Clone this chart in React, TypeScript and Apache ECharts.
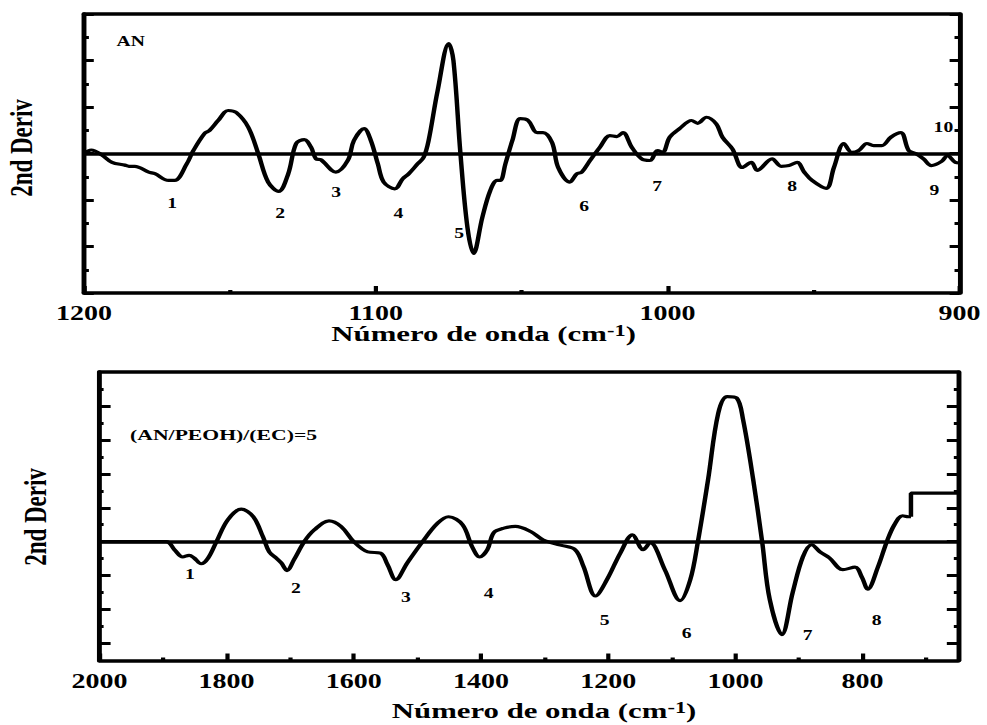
import React, { useEffect, useRef } from 'react';
import * as echarts from 'echarts';

// ---------- data ----------
// Upper panel: AN, 1200-900 cm-1
const topXRange = [900, 1200];
const topYRange = [-6, 6];
const topSpectrum: [number, number][] = [
  [1200, 0.0], [1197.5, 0.15], [1194, -0.05], [1190.4, -0.38], [1186, -0.5], [1184.6, -0.55],
  [1182.6, -0.55], [1177.8, -0.8], [1175.7, -0.87], [1171, -1.16], [1168.9, -1.16], [1164.8, -0.45],
  [1162.5, 0.13], [1158.7, 0.86], [1157, 0.99], [1154, 1.42], [1150.6, 1.85], [1147.8, 1.76],
  [1143.7, 1.13], [1140.3, 0], [1136.9, -1.23], [1133.3, -1.63], [1130, -0.87], [1127.3, 0.43],
  [1124.5, 0.6], [1122.2, 0.27], [1120.5, -0.23], [1118.8, -0.27], [1113.7, -0.8], [1109.6, -0.3],
  [1107.5, 0.56], [1104, 1.07], [1101.7, 0.56], [1099.3, -0.45], [1097.3, -1.23], [1093.5, -1.52],
  [1090.8, -1.09], [1088.7, -0.87], [1085.7, -0.45], [1083.6, -0.16], [1081.9, 0.56], [1078.8, 2.71],
  [1075, 4.73], [1073.4, 4.0], [1071, 0], [1068.6, -3.18], [1066.5, -4.3], [1063.5, -2.75],
  [1060.8, -1.6], [1058.4, -1.16], [1057.3, -1.16], [1055.6, -0.45], [1053.2, 0.56], [1050.5, 1.5],
  [1047.8, 1.42], [1044.7, 0.9], [1042.7, 0.9], [1039.6, 0.47], [1037.5, -0.6], [1033.5, -1.23],
  [1031.1, -0.87], [1029.4, -0.8], [1026.6, -0.3], [1023.2, 0.27], [1019.8, 0.77], [1017.4, 0.73],
  [1015.3, 0.9], [1012.3, 0.27], [1008.9, -0.23], [1006.1, -0.3], [1003.4, 0.13], [1001.7, 0.05],
  [999.3, 0.7], [995.9, 1.07], [991.8, 1.42], [989.7, 1.3], [986.7, 1.56], [983.3, 1.27],
  [981.2, 0.7], [977.8, 0.2], [974.4, -0.6], [971.3, -0.38], [969.3, -0.73], [964.2, -0.23],
  [961.1, -0.55], [958.4, -0.52], [955.6, -0.38], [953.2, -0.8], [950.5, -1.16], [945.7, -1.5],
  [943, -0.6], [939.6, 0.43], [936.9, 0.05], [934.5, 0.13], [931.7, 0.43], [929.4, 0.34],
  [926.6, 0.34], [923.5, 0.7], [920.1, 0.9], [917.4, 0.13], [915, 0], [912.3, -0.23],
  [909.6, -0.52], [906.1, -0.34], [904.1, -0.09], [901.4, -0.38], [900, -0.4],
];
const topPeakLabels = [
  { name: '1', value: [1169.8, -2.17] },
  { name: '2', value: [1132.8, -2.56] },
  { name: '3', value: [1113.6, -1.66] },
  { name: '4', value: [1092.3, -2.6] },
  { name: '5', value: [1071.4, -3.42] },
  { name: '6', value: [1028.6, -2.3] },
  { name: '7', value: [1003.6, -1.4] },
  { name: '8', value: [957.3, -1.4] },
  { name: '9', value: [908.6, -1.61] },
  { name: '10', value: [905.5, 1.14] },
];

// Lower panel: (AN/PEOH)/(EC)=5, 2000-650 cm-1
const bottomXRange = [650, 2000];
const bottomYRange = [-7, 10];
const bottomXMajorTicks = [800, 1000, 1200, 1400, 1600, 1800, 2000];
const bottomXMinorTicks = [700, 900, 1100, 1300, 1500, 1700, 1900];
const bottomYMajorTicks = [-6, -4, -2, 0, 2, 4, 6, 8];
const bottomYMinorTicks = [-5, -3, -1, 1, 3, 5, 7, 9];
const bottomSpectrum: [number, number][] = [
  [2000, 0], [1895, 0], [1882, -0.47], [1869, -0.9], [1859, -0.8], [1851, -0.96], [1840, -1.3],
  [1829, -0.96], [1816, 0], [1798, 1.3], [1777, 1.92], [1758, 1.47], [1743, 0.3], [1733, -0.6],
  [1722, -0.96], [1714, -1.25], [1705, -1.7], [1694, -1.06], [1678, 0], [1662, 0.7], [1639, 1.23],
  [1620, 0.9], [1600, 0], [1578, -0.6], [1558, -0.67], [1547, -1.35], [1534, -2.24], [1516, -1.25],
  [1492, 0], [1468, 1.1], [1451, 1.47], [1429, 1.0], [1414, -0.3], [1402, -0.9], [1390, -0.47],
  [1380, 0.53], [1364, 0.8], [1346, 0.9], [1322, 0.6], [1302, 0.1], [1275, -0.2], [1252, -0.47],
  [1239, -1.45], [1220, -3.2], [1202, -2.24], [1181, -0.67], [1162, 0.4], [1145, -0.47],
  [1134, -0.06], [1111, -1.65], [1087, -3.47], [1071, -2.24], [1059, 0], [1043, 3.65],
  [1027, 7.57], [1013, 8.55], [998, 8.47], [988, 7.2], [972, 3.65], [958, 0], [946, -3.41],
  [927, -5.47], [910, -3.0], [894, -0.9], [880, -0.18], [867, -0.6], [852, -0.96], [831, -1.65],
  [812, -1.5], [801, -2.1], [792, -2.8], [776, -1.5], [762, 0], [750, 1.0], [737, 1.53],
  [728, 1.47], [724, 1.47],
];
const bottomStep: [number, number][] = [[724, 1.47], [724, 2.86], [650, 2.86]];
const bottomPeakLabels = [
  { name: '1', value: [1857.8, -1.94] },
  { name: '2', value: [1691.2, -2.77] },
  { name: '3', value: [1518.3, -3.3] },
  { name: '4', value: [1387.9, -3.06] },
  { name: '5', value: [1205.6, -4.66] },
  { name: '6', value: [1076.7, -5.42] },
  { name: '7', value: [886.5, -5.54] },
  { name: '8', value: [778.1, -4.66] },
];

const panelTitles = ['AN', '(AN/PEOH)/(EC)=5'];
const yTitle = '2nd Deriv';

// ---------- styling ----------
const FONT = "'Liberation Serif', 'Times New Roman', serif";
const BLACK = '#000';
const FRAME_W = 3.5;
const STRETCH = 1.4; // the figure is horizontally stretched
const INNER_W = 987 / STRETCH;

const frameLine = { show: true, onZero: false, lineStyle: { color: BLACK, width: FRAME_W } };
const noLine = { show: false, onZero: false };
const tickStyle = { color: BLACK, width: 3 };
const tickLabel = {
  color: BLACK, fontFamily: FONT, fontWeight: 'bold' as const, fontSize: 20,
  formatter: (v: number) => String(v),
};

export default function App() {
  const ref = useRef<HTMLDivElement>(null);

  useEffect(() => {
    if (!ref.current) return;
    const chart = echarts.init(ref.current, null, { renderer: 'svg' });

    const plainX = (gridIndex: number, range: number[], position: string) => ({
      gridIndex, type: 'value', position, min: range[0], max: range[1], inverse: true,
      axisLine: frameLine, axisTick: { show: false }, axisLabel: { show: false },
      splitLine: { show: false },
    });

    const zeroLine = {
      silent: true, symbol: ['none', 'none'], label: { show: false },
      lineStyle: { color: BLACK, width: FRAME_W, type: 'solid' }, data: [{ yAxis: 0 }],
    };

    const option: any = {
      animation: false,
      backgroundColor: '#fff',
      grid: [
        { left: 60, right: INNER_W - 685.3, top: 14, height: 279 },
        { left: 71, right: INNER_W - 684.3, top: 372, height: 288.5 },
      ],
      xAxis: [
        {
          gridIndex: 0, type: 'value', position: 'bottom', min: topXRange[0], max: topXRange[1],
          interval: 100, inverse: true, axisLine: frameLine,
          axisTick: { show: true, inside: true, length: 7, lineStyle: tickStyle },
          minorTick: { show: true, splitNumber: 2, length: 3, lineStyle: tickStyle },
          axisLabel: { ...tickLabel, margin: 10 },
          splitLine: { show: false }, minorSplitLine: { show: false },
        },
        plainX(0, topXRange, 'top'),
        {
          gridIndex: 1, type: 'value', position: 'bottom', min: bottomXRange[0], max: bottomXRange[1],
          inverse: true, axisLine: frameLine,
          axisTick: { show: true, inside: true, length: 7, customValues: bottomXMajorTicks, lineStyle: tickStyle },
          axisLabel: { ...tickLabel, margin: 11, customValues: bottomXMajorTicks },
          splitLine: { show: false },
        },
        {
          gridIndex: 1, type: 'value', position: 'bottom', min: bottomXRange[0], max: bottomXRange[1],
          inverse: true, axisLine: noLine,
          axisTick: { show: true, inside: true, length: 3, customValues: bottomXMinorTicks, lineStyle: tickStyle },
          axisLabel: { show: false }, splitLine: { show: false },
        },
        plainX(1, bottomXRange, 'top'),
      ],
      yAxis: [
        ...['left', 'right'].map((position) => ({
          gridIndex: 0, type: 'value', position, min: topYRange[0], max: topYRange[1], interval: 2,
          axisLine: frameLine,
          axisTick: { show: true, inside: true, length: 7, lineStyle: tickStyle },
          minorTick: { show: true, splitNumber: 2, length: 3.5, lineStyle: tickStyle },
          axisLabel: { show: false }, splitLine: { show: false }, minorSplitLine: { show: false },
        })),
        ...['left', 'right'].flatMap((position) => [
          {
            gridIndex: 1, type: 'value', position, min: bottomYRange[0], max: bottomYRange[1],
            axisLine: frameLine,
            axisTick: { show: true, inside: true, length: 8, customValues: bottomYMajorTicks, lineStyle: tickStyle },
            axisLabel: { show: false }, splitLine: { show: false },
          },
          {
            gridIndex: 1, type: 'value', position, min: bottomYRange[0], max: bottomYRange[1],
            axisLine: noLine,
            axisTick: { show: true, inside: true, length: 3, customValues: bottomYMinorTicks, lineStyle: tickStyle },
            axisLabel: { show: false }, splitLine: { show: false },
          },
        ]),
      ],
      series: [
        {
          type: 'line', xAxisIndex: 0, yAxisIndex: 0, data: topSpectrum, symbol: 'none',
          smooth: 0.35, silent: true, lineStyle: { color: BLACK, width: 3.2 }, z: 3,
          markLine: zeroLine,
        },
        {
          type: 'line', xAxisIndex: 2, yAxisIndex: 2, data: bottomSpectrum, symbol: 'none',
          smooth: 0.35, silent: true, lineStyle: { color: BLACK, width: 3.2 }, z: 3,
          markLine: zeroLine,
        },
        {
          type: 'line', xAxisIndex: 2, yAxisIndex: 2, data: bottomStep, symbol: 'none',
          smooth: false, silent: true, lineStyle: { color: BLACK, width: 3.2 }, z: 3,
        },
      ],
    };

    chart.setOption(option);

    // Peak labels, placed through the axes' own scales
    const peakText = (finder: any, items: { name: string; value: number[] }[]) =>
      items.map((it) => {
        const [px, py] = chart.convertToPixel(finder, it.value) as number[];
        return {
          type: 'text', x: px, y: py, silent: true, z: 10,
          style: {
            text: it.name, fill: BLACK, fontFamily: FONT, fontWeight: 'bold', fontSize: 14,
            align: 'center', verticalAlign: 'middle',
          },
        };
      });

    const graphic: any[] = [
      {
        type: 'text', x: 83.3, y: 41.5, silent: true,
        style: { text: panelTitles[0], fill: BLACK, fontFamily: FONT, fontWeight: 'bold', fontSize: 14, align: 'left', verticalAlign: 'middle' },
      },
      {
        type: 'text', x: 92.9, y: 435, silent: true,
        style: { text: panelTitles[1], fill: BLACK, fontFamily: FONT, fontWeight: 'bold', fontSize: 15.5, align: 'left', verticalAlign: 'middle' },
      },
      ...[[15, 148], [25, 517]].map(([x, y]) => ({
        type: 'text', x, y, rotation: Math.PI / 2, silent: true,
        style: { text: yTitle, fill: BLACK, fontFamily: FONT, fontWeight: 'bold', fontSize: 23, align: 'center', verticalAlign: 'middle' },
      })),
      ...[[345.4, 333.5], [388.6, 711]].map(([x, y]) => ({
        type: 'text', x, y, silent: true,
        style: {
          text: '{a|Número de onda (cm}{s|-1}{a|)}',
          fill: BLACK, align: 'center', verticalAlign: 'middle',
          fontFamily: FONT, fontWeight: 'bold', fontSize: 22,
          rich: {
            a: { fill: BLACK, fontFamily: FONT, fontWeight: 'bold', fontSize: 22, lineHeight: 22, verticalAlign: 'bottom' },
            s: { fill: BLACK, fontFamily: FONT, fontWeight: 'bold', fontSize: 16, lineHeight: 8, verticalAlign: 'top' },
          },
        },
      })),
      ...peakText({ xAxisIndex: 0, yAxisIndex: 0 }, topPeakLabels),
      ...peakText({ xAxisIndex: 2, yAxisIndex: 2 }, bottomPeakLabels),
    ];

    chart.setOption({ graphic });
    return () => chart.dispose();
  }, []);

  return (
    <div
      ref={ref}
      style={{
        position: 'absolute', left: 0, top: 0,
        width: INNER_W, height: 725,
        transform: `scaleX(${STRETCH})`, transformOrigin: '0 0',
        background: '#fff',
      }}
    />
  );
}
